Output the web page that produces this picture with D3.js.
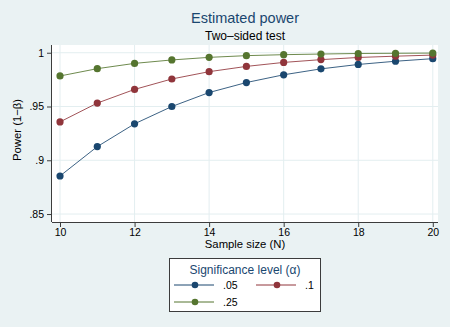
<!DOCTYPE html>
<html><head><meta charset="utf-8">
<script src="https://cdn.jsdelivr.net/npm/d3@7"></script>
<style>
html,body{margin:0;padding:0;background:#eaf2f3;}
svg{display:block;font-family:"Liberation Sans",Arial,Helvetica,sans-serif;}
</style></head>
<body>
<script>
const sampleSizes = [10,11,12,13,14,15,16,17,18,19,20];
const power05 = [0.8854,0.9127,0.9339,0.9500,0.9630,0.9723,0.9795,0.9850,0.9891,0.9921,0.9945];
const power10 = [0.9357,0.9532,0.9659,0.9756,0.9824,0.9873,0.9910,0.9936,0.9956,0.9968,0.9978];
const power25 = [0.9784,0.9852,0.9901,0.9933,0.9957,0.9973,0.9982,0.9988,0.9993,0.9995,0.9997];
const seriesLabels = [".05", ".1", ".25"];
const xTicks = [10,12,14,16,18,20];
const yTicks = [0.85,0.9,0.95,1];
const yTickLabels = [".85",".9",".95","1"];

const W=450,H=327;
const colors=["#1a476f","#90353b","#55752f"];
const series=[power05,power10,power25];

const svg=d3.select("body").append("svg").attr("width",W).attr("height",H);
svg.append("rect").attr("width",W).attr("height",H).attr("fill","#eaf2f3");

const pl=52,pr=438,pt=45,pb=222;
const x=d3.scaleLinear().domain([9.785,20.14]).range([pl,pr]);
const y=d3.scaleLinear().domain([0.8426,1.0072]).range([pb,pt]);

svg.append("rect").attr("x",pl).attr("y",pt).attr("width",pr-pl).attr("height",pb-pt).attr("fill","#ffffff");

// gridlines
const g=svg.append("g");
g.selectAll(".gx").data(xTicks).join("line")
 .attr("x1",d=>x(d)).attr("x2",d=>x(d)).attr("y1",pt).attr("y2",pb)
 .attr("stroke","#e3eef0").attr("stroke-width",1);
g.selectAll(".gy").data(yTicks).join("line")
 .attr("x1",pl).attr("x2",pr).attr("y1",d=>y(d)).attr("y2",d=>y(d))
 .attr("stroke","#e3eef0").attr("stroke-width",1);

// axes
const xAxis=d3.axisBottom(x).tickValues(xTicks).tickSize(5).tickPadding(2).tickFormat(d3.format("d"));
const gx=svg.append("g").attr("transform",`translate(0,${pb})`).call(xAxis);
gx.select(".domain").attr("d",`M${pl},0.5H${pr}`).attr("stroke","#3c3c3c");
gx.selectAll(".tick line").attr("stroke","#3c3c3c");
gx.selectAll("text").attr("font-size","10.5px").attr("fill","#000").attr("font-family","Liberation Sans, Arial, sans-serif");

const yAxis=d3.axisLeft(y).tickValues(yTicks).tickSize(5).tickPadding(3).tickFormat((d,i)=>yTickLabels[i]);
const gy=svg.append("g").attr("transform",`translate(${pl},0)`).call(yAxis);
gy.select(".domain").attr("d",`M-0.5,${pt}V${pb}`).attr("stroke","#3c3c3c");
gy.selectAll(".tick line").attr("stroke","#3c3c3c");
gy.selectAll("text").attr("font-size","10.5px").attr("fill","#000").attr("font-family","Liberation Sans, Arial, sans-serif");

// lines & markers
const line=d3.line().x((d,i)=>x(sampleSizes[i])).y(d=>y(d));
series.forEach((s,k)=>{
  svg.append("path").attr("d",line(s)).attr("fill","none").attr("stroke",colors[k]).attr("stroke-width",1).attr("stroke-opacity",0.85);
  svg.append("g").selectAll("circle").data(s).join("circle")
   .attr("cx",(d,i)=>x(sampleSizes[i])).attr("cy",d=>y(d)).attr("r",3.6).attr("fill",colors[k]);
});

// titles
svg.append("text").attr("x",245).attr("y",23).attr("text-anchor","middle").attr("font-size","14.5px").attr("fill","#1a476f").text("Estimated power");
svg.append("text").attr("x",245).attr("y",40).attr("text-anchor","middle").attr("font-size","12px").attr("fill","#000").text("Two\u2013sided test");
svg.append("text").attr("x",245).attr("y",248).attr("text-anchor","middle").attr("font-size","11.3px").attr("fill","#000").text("Sample size (N)");
svg.append("text").attr("transform","translate(21,130) rotate(-90)").attr("text-anchor","middle").attr("font-size","11.3px").attr("fill","#000").text("Power (1\u2212\u03b2)");

// legend
const lg=svg.append("g");
lg.append("rect").attr("x",169.5).attr("y",258.5).attr("width",151).attr("height",53).attr("fill","#fff").attr("stroke","#3c3c3c").attr("stroke-width",1);
lg.append("text").attr("x",245).attr("y",274).attr("text-anchor","middle").attr("font-size","12px").attr("fill","#1a476f").text("Significance level (\u03b1)");
const pos=[[174,285],[256,285],[174,302]];
seriesLabels.forEach((lab,k)=>{
  const [lx,ly]=pos[k];
  lg.append("line").attr("x1",lx).attr("x2",lx+40).attr("y1",ly).attr("y2",ly).attr("stroke",colors[k]).attr("stroke-width",1);
  lg.append("circle").attr("cx",lx+21).attr("cy",ly).attr("r",3.3).attr("fill",colors[k]);
  lg.append("text").attr("x",lx+49).attr("y",ly+4).attr("font-size","10.5px").attr("fill","#000").text(lab);
});
</script>
</body></html>
